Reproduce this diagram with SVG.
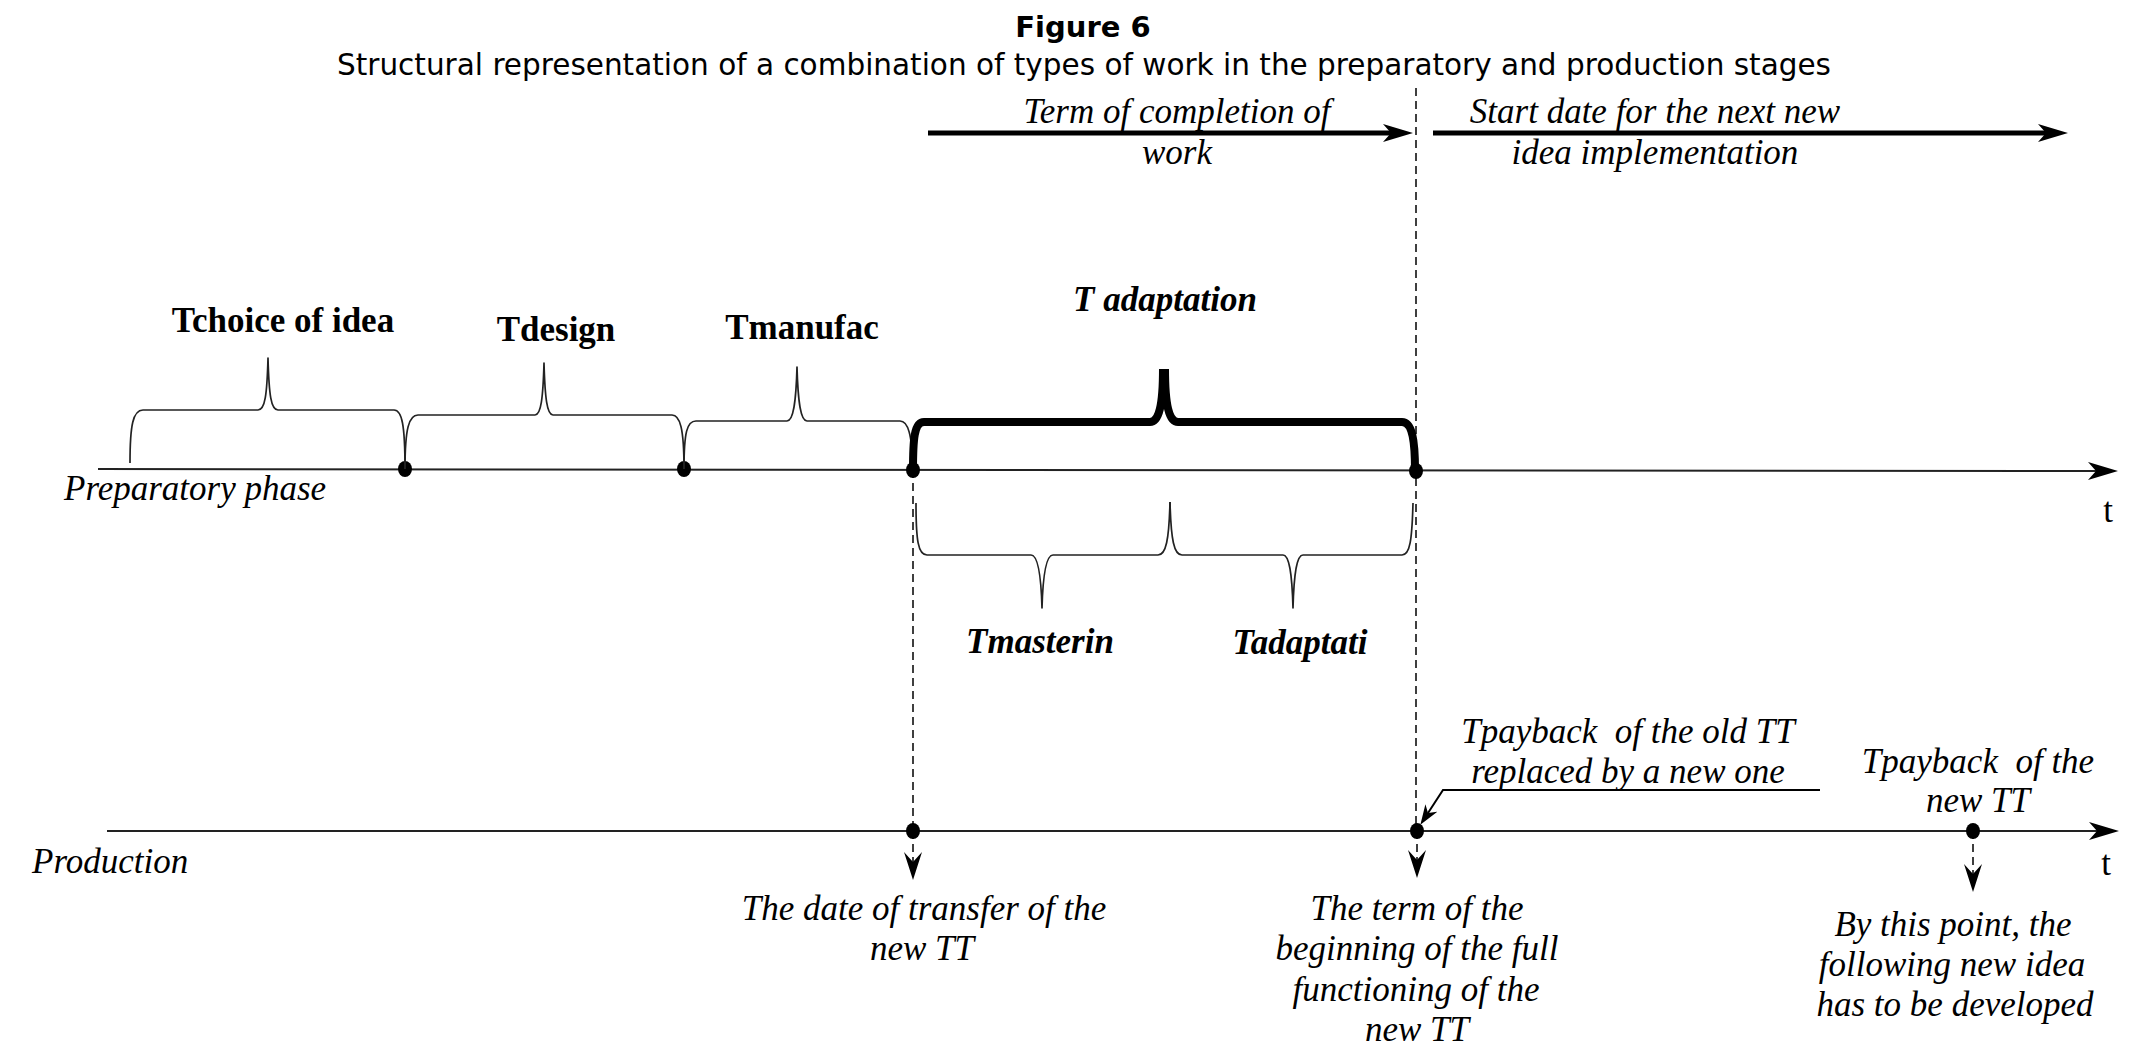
<svg xmlns="http://www.w3.org/2000/svg" width="2131" height="1042" viewBox="0 0 2131 1042">
<style>
  text { fill: #000; }
  .title { font-family: "DejaVu Sans", Verdana, sans-serif; font-size: 29px; font-weight: bold; text-anchor: middle; }
  .sub { font-family: "DejaVu Sans", Verdana, sans-serif; font-size: 29.3px; text-anchor: middle; }
  .it { font-family: "Liberation Serif", "Times New Roman", serif; font-size: 35px; font-style: italic; text-anchor: middle; }
  .itl { font-family: "Liberation Serif", "Times New Roman", serif; font-size: 35px; font-style: italic; }
  .b { font-family: "Liberation Serif", "Times New Roman", serif; font-size: 35px; font-weight: bold; text-anchor: middle; }
  .bi { font-family: "Liberation Serif", "Times New Roman", serif; font-size: 35px; font-weight: bold; font-style: italic; text-anchor: middle; }
  .t { font-family: "Liberation Serif", "Times New Roman", serif; font-size: 35px; text-anchor: middle; }
  .axis { stroke: #222; stroke-width: 2; fill: none; }
  .thick { stroke: #000; stroke-width: 5; fill: none; }
  .dash { stroke: #000; stroke-width: 1.5; stroke-dasharray: 8 5; fill: none; }
  .brace { stroke: #222; stroke-width: 1.7; fill: none; stroke-linejoin: round; }
  .bigbrace { stroke: #000; stroke-width: 8; fill: none; stroke-linecap: butt; }
  .thin { stroke: #000; stroke-width: 2; fill: none; }
  .dot { fill: #000; }
</style>
<defs>
  <marker id="head" markerUnits="userSpaceOnUse" markerWidth="32" markerHeight="20" refX="8" refY="9" orient="auto">
    <path d="M0,0 L30,9 L0,18 L8,9 Z" fill="#000"/>
  </marker>
  <marker id="vhead" markerUnits="userSpaceOnUse" markerWidth="30" markerHeight="20" refX="10" refY="9" orient="auto">
    <path d="M0,0 L28,9 L0,18 L10,9 Z" fill="#000"/>
  </marker>
  <marker id="shead" markerUnits="userSpaceOnUse" markerWidth="22" markerHeight="16" refX="6" refY="7" orient="auto">
    <path d="M0,0 L20,7 L0,14 L6,7 Z" fill="#000"/>
  </marker>
</defs>

<g id="title">
  <text class="title" x="1083" y="37">Figure 6</text>
  <text class="sub" x="1084" y="75" textLength="1494" lengthAdjust="spacingAndGlyphs">Structural representation of a combination of types of work in the preparatory and production stages</text>
</g>

<g id="connectors">
  <line class="dash" x1="1416" y1="88" x2="1416" y2="831"/>
  <line class="dash" x1="913" y1="470" x2="913" y2="831"/>
  <path class="axis" d="M98,469 L2096,471" marker-end="url(#head)"/>
  <path class="axis" d="M107,831 L2097,831" marker-end="url(#head)"/>
  <line class="thick" x1="928" y1="133" x2="1391" y2="133" marker-end="url(#head)"/>
  <line class="thick" x1="1433" y1="133" x2="2046" y2="133" marker-end="url(#head)"/>
  <line class="dash" x1="913" y1="831" x2="913" y2="862" marker-end="url(#vhead)"/>
  <line class="dash" x1="1417" y1="831" x2="1417" y2="860" marker-end="url(#vhead)"/>
  <line class="dash" x1="1973" y1="831" x2="1973" y2="874" marker-end="url(#vhead)"/>
  <path class="thin" d="M1820,790 L1443,790 L1428,813" marker-end="url(#shead)"/>
</g>

<g id="dots">
  <ellipse class="dot" cx="405" cy="469" rx="7" ry="8"/>
  <ellipse class="dot" cx="684" cy="469" rx="7" ry="8"/>
  <ellipse class="dot" cx="913" cy="470" rx="7" ry="8"/>
  <ellipse class="dot" cx="1416" cy="471" rx="7" ry="8"/>
  <ellipse class="dot" cx="913" cy="831" rx="7" ry="8"/>
  <ellipse class="dot" cx="1417" cy="831" rx="7" ry="8"/>
  <ellipse class="dot" cx="1973" cy="831" rx="7" ry="8"/>
</g>

<g id="node-choice">
  <path class="brace" d="M130,463 C130,425 133,410 143,410 L258,410 C265,410 267,395 268,358 C269,395 271,410 278,410 L394,410 C402,410 405,425 405,469"/>
  <text class="b" x="283" y="332">Tchoice of idea</text>
</g>
<g id="node-design">
  <path class="brace" d="M405,469 C405,428 409,415 418,415 L535,415 C541,415 543,398 544,363 C545,398 547,415 553,415 L672,415 C680,415 684,428 684,469"/>
  <text class="b" x="556" y="341">Tdesign</text>
</g>
<g id="node-manufac">
  <path class="brace" d="M684,469 C684,432 687,421 696,421 L787,421 C793,421 796,404 797,367 C798,404 801,421 807,421 L900,421 C908,421 912,434 913,469"/>
  <text class="b" x="802" y="339">Tmanufac</text>
</g>
<g id="node-adaptation">
  <path class="bigbrace" d="M913,470 C913,440 914,422 924,422 L1150,422 C1159,422 1163,405 1163,369"/>
  <path class="bigbrace" d="M1165,369 C1165,405 1169,422 1178,422 L1402,422 C1412,422 1415,440 1415,470"/>
  <text class="bi" x="1165" y="311">T adaptation</text>
</g>
<g id="node-masterin">
  <path class="brace" d="M916,503 C916,540 918,555 927,555 L1031,555 C1037,555 1041,572 1042,608 C1043,572 1047,555 1053,555 L1158,555 C1166,555 1169,540 1170,502"/>
  <text class="bi" x="1040" y="653">Tmasterin</text>
</g>
<g id="node-adaptati">
  <path class="brace" d="M1170,502 C1171,540 1174,555 1182,555 L1283,555 C1289,555 1292,572 1293,608 C1294,572 1297,555 1303,555 L1402,555 C1410,555 1412,540 1413,503"/>
  <text class="bi" x="1300" y="654">Tadaptati</text>
</g>

<g id="label-preparatory">
  <text class="itl" x="64" y="500">Preparatory phase</text>
</g>
<g id="label-t1"><text class="t" x="2108" y="522">t</text></g>
<g id="label-production">
  <text class="itl" x="32" y="873">Production</text>
</g>
<g id="label-t2"><text class="t" x="2106" y="875">t</text></g>

<g id="label-completion">
  <text class="it" x="1177" y="123">Term of completion of</text>
  <text class="it" x="1177" y="164">work</text>
</g>
<g id="label-startdate">
  <text class="it" x="1655" y="123">Start date for the next new</text>
  <text class="it" x="1655" y="164">idea implementation</text>
</g>

<g id="label-transfer">
  <text class="it" x="924" y="920">The date of transfer of the</text>
  <text class="it" x="922" y="960">new TT</text>
</g>
<g id="label-full">
  <text class="it" x="1417" y="920">The term of the</text>
  <text class="it" x="1417" y="960">beginning of the full</text>
  <text class="it" x="1416" y="1001">functioning of the</text>
  <text class="it" x="1417" y="1041">new TT</text>
</g>
<g id="label-oldtt">
  <text class="it" x="1628" y="743" xml:space="preserve">Tpayback  of the old TT</text>
  <text class="it" x="1628" y="783">replaced by a new one</text>
</g>
<g id="label-newtt">
  <text class="it" x="1978" y="773" xml:space="preserve">Tpayback  of the</text>
  <text class="it" x="1978" y="812">new TT</text>
</g>
<g id="label-point">
  <text class="it" x="1953" y="936">By this point, the</text>
  <text class="it" x="1952" y="976">following new idea</text>
  <text class="it" x="1955" y="1016">has to be developed</text>
</g>
</svg>
